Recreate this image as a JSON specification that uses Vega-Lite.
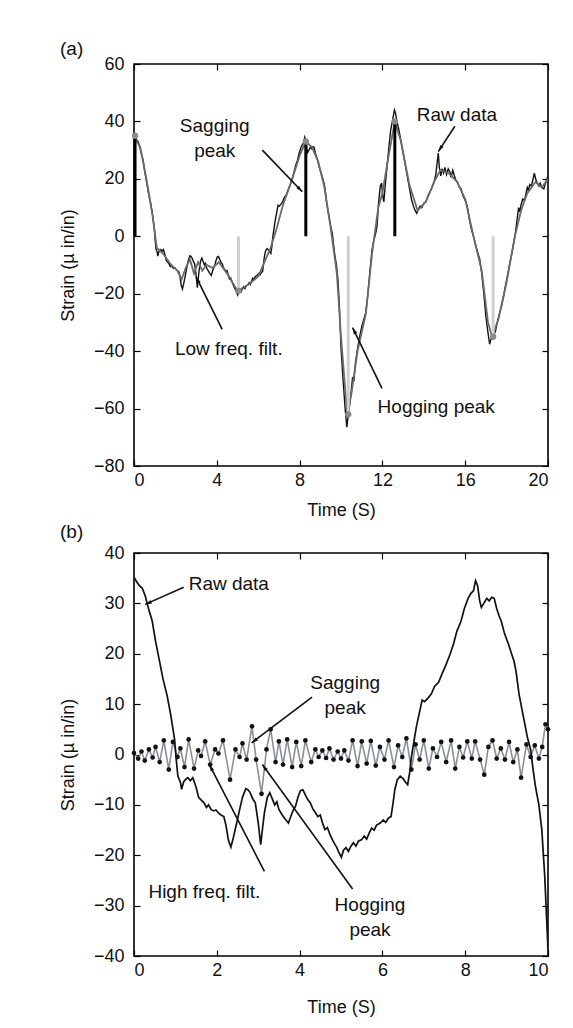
{
  "$schema": "https://vega.github.io/schema/vega-lite/v6.json",
  "background": "white",
  "padding": {"left": 58, "top": 39, "right": 5, "bottom": 5},
  "spacing": 2,
  "datasets": {
    "raw": [
      {"t":0.00,"v":35.2},{"t":0.05,"v":34.5},{"t":0.12,"v":33.6},{"t":0.20,"v":33.0},{"t":0.27,"v":31.5},{"t":0.35,"v":29.0},{"t":0.44,"v":26.5},{"t":0.52,"v":22.5},{"t":0.62,"v":18.4},{"t":0.70,"v":15.0},{"t":0.80,"v":11.7},{"t":0.89,"v":7.7},{"t":0.98,"v":3.0},{"t":1.02,"v":-1.0},{"t":1.06,"v":-4.3},{"t":1.12,"v":-5.5},{"t":1.15,"v":-6.9},{"t":1.20,"v":-5.4},{"t":1.24,"v":-5.0},{"t":1.30,"v":-4.6},{"t":1.36,"v":-5.2},{"t":1.42,"v":-4.6},{"t":1.50,"v":-6.5},{"t":1.56,"v":-8.5},{"t":1.62,"v":-9.0},{"t":1.69,"v":-9.6},{"t":1.75,"v":-10.5},{"t":1.80,"v":-10.0},{"t":1.86,"v":-10.9},{"t":1.92,"v":-11.2},{"t":1.98,"v":-11.0},{"t":2.04,"v":-11.6},{"t":2.10,"v":-12.0},{"t":2.17,"v":-12.3},{"t":2.22,"v":-14.0},{"t":2.28,"v":-17.0},{"t":2.34,"v":-18.4},{"t":2.40,"v":-16.5},{"t":2.48,"v":-13.6},{"t":2.55,"v":-11.0},{"t":2.62,"v":-8.5},{"t":2.70,"v":-6.8},{"t":2.75,"v":-7.0},{"t":2.80,"v":-7.5},{"t":2.88,"v":-9.0},{"t":2.93,"v":-9.6},{"t":3.00,"v":-13.5},{"t":3.06,"v":-17.9},{"t":3.10,"v":-15.0},{"t":3.15,"v":-11.6},{"t":3.22,"v":-8.5},{"t":3.28,"v":-7.6},{"t":3.34,"v":-8.8},{"t":3.40,"v":-10.0},{"t":3.45,"v":-9.4},{"t":3.50,"v":-10.9},{"t":3.58,"v":-12.0},{"t":3.65,"v":-12.8},{"t":3.73,"v":-13.6},{"t":3.80,"v":-12.0},{"t":3.85,"v":-11.0},{"t":3.90,"v":-10.3},{"t":3.96,"v":-8.5},{"t":4.02,"v":-7.2},{"t":4.08,"v":-7.0},{"t":4.15,"v":-8.2},{"t":4.20,"v":-9.0},{"t":4.26,"v":-9.6},{"t":4.32,"v":-10.8},{"t":4.38,"v":-11.5},{"t":4.44,"v":-12.3},{"t":4.50,"v":-12.0},{"t":4.55,"v":-13.5},{"t":4.61,"v":-14.9},{"t":4.67,"v":-14.5},{"t":4.73,"v":-15.8},{"t":4.79,"v":-16.9},{"t":4.85,"v":-17.8},{"t":4.90,"v":-18.5},{"t":4.95,"v":-19.5},{"t":5.01,"v":-20.4},{"t":5.06,"v":-19.0},{"t":5.12,"v":-18.5},{"t":5.18,"v":-19.2},{"t":5.24,"v":-18.2},{"t":5.30,"v":-17.5},{"t":5.36,"v":-18.2},{"t":5.42,"v":-17.2},{"t":5.50,"v":-16.9},{"t":5.56,"v":-16.2},{"t":5.62,"v":-16.8},{"t":5.68,"v":-15.6},{"t":5.74,"v":-14.6},{"t":5.80,"v":-15.0},{"t":5.86,"v":-14.0},{"t":5.95,"v":-13.6},{"t":6.02,"v":-13.0},{"t":6.08,"v":-13.5},{"t":6.15,"v":-12.6},{"t":6.21,"v":-12.3},{"t":6.26,"v":-9.5},{"t":6.30,"v":-7.0},{"t":6.36,"v":-5.0},{"t":6.43,"v":-4.3},{"t":6.50,"v":-4.8},{"t":6.56,"v":-5.5},{"t":6.61,"v":-6.0},{"t":6.66,"v":-3.5},{"t":6.70,"v":-0.5},{"t":6.76,"v":2.5},{"t":6.82,"v":5.5},{"t":6.90,"v":8.5},{"t":6.96,"v":10.8},{"t":7.02,"v":10.5},{"t":7.10,"v":11.2},{"t":7.18,"v":12.0},{"t":7.26,"v":13.5},{"t":7.36,"v":14.4},{"t":7.44,"v":16.0},{"t":7.52,"v":17.5},{"t":7.63,"v":19.8},{"t":7.72,"v":22.0},{"t":7.80,"v":24.5},{"t":7.90,"v":26.5},{"t":7.98,"v":29.0},{"t":8.07,"v":31.0},{"t":8.14,"v":32.0},{"t":8.20,"v":32.5},{"t":8.25,"v":34.5},{"t":8.30,"v":33.5},{"t":8.35,"v":30.5},{"t":8.39,"v":29.2},{"t":8.45,"v":30.0},{"t":8.52,"v":31.0},{"t":8.58,"v":30.5},{"t":8.64,"v":31.2},{"t":8.70,"v":31.0},{"t":8.76,"v":29.0},{"t":8.82,"v":27.5},{"t":8.87,"v":26.5},{"t":8.95,"v":24.0},{"t":9.05,"v":21.8},{"t":9.12,"v":20.0},{"t":9.18,"v":18.5},{"t":9.23,"v":16.4},{"t":9.30,"v":12.0},{"t":9.40,"v":7.7},{"t":9.50,"v":3.5},{"t":9.58,"v":1.0},{"t":9.64,"v":-3.0},{"t":9.70,"v":-6.5},{"t":9.78,"v":-10.0},{"t":9.85,"v":-14.9},{"t":9.92,"v":-24.0},{"t":10.00,"v":-38.7},
      {"t":10.10,"v":-50.0},{"t":10.20,"v":-60.0},{"t":10.28,"v":-66.5},{"t":10.34,"v":-63.0},{"t":10.40,"v":-60.0},{"t":10.48,"v":-55.0},{"t":10.56,"v":-49.0},{"t":10.62,"v":-50.5},{"t":10.70,"v":-44.0},{"t":10.80,"v":-39.0},{"t":10.90,"v":-35.0},{"t":11.00,"v":-31.5},{"t":11.10,"v":-29.0},{"t":11.20,"v":-26.5},{"t":11.30,"v":-20.0},{"t":11.40,"v":-12.0},{"t":11.50,"v":-4.7},{"t":11.58,"v":-1.5},{"t":11.66,"v":0.5},{"t":11.74,"v":3.5},{"t":11.82,"v":12.0},{"t":11.90,"v":17.5},{"t":11.96,"v":18.5},{"t":12.02,"v":14.0},{"t":12.07,"v":12.0},{"t":12.14,"v":18.0},{"t":12.22,"v":24.0},{"t":12.30,"v":30.0},{"t":12.40,"v":37.0},{"t":12.50,"v":40.7},{"t":12.58,"v":44.0},{"t":12.63,"v":43.0},{"t":12.70,"v":40.0},{"t":12.80,"v":37.0},{"t":12.90,"v":33.0},{"t":13.00,"v":29.0},{"t":13.10,"v":25.0},{"t":13.20,"v":21.0},{"t":13.30,"v":17.0},{"t":13.40,"v":13.0},{"t":13.50,"v":10.5},{"t":13.58,"v":9.0},{"t":13.66,"v":8.0},{"t":13.74,"v":9.5},{"t":13.82,"v":10.5},{"t":13.90,"v":10.0},{"t":14.00,"v":11.5},{"t":14.10,"v":12.0},{"t":14.20,"v":14.0},{"t":14.30,"v":15.5},{"t":14.40,"v":17.0},{"t":14.50,"v":19.0},{"t":14.58,"v":21.5},{"t":14.65,"v":26.0},{"t":14.70,"v":29.0},{"t":14.75,"v":24.0},{"t":14.82,"v":21.0},{"t":14.88,"v":23.5},{"t":14.95,"v":22.0},{"t":15.02,"v":24.0},{"t":15.10,"v":21.5},{"t":15.18,"v":23.5},{"t":15.26,"v":22.5},{"t":15.32,"v":20.5},{"t":15.40,"v":23.0},{"t":15.48,"v":21.0},{"t":15.55,"v":19.5},{"t":15.62,"v":19.0},{"t":15.70,"v":17.5},{"t":15.80,"v":16.5},{"t":15.90,"v":14.0},{"t":16.00,"v":12.5},{"t":16.10,"v":10.5},{"t":16.20,"v":6.0},{"t":16.30,"v":2.5},{"t":16.40,"v":0.0},{"t":16.50,"v":-3.0},{"t":16.60,"v":-5.5},{"t":16.70,"v":-8.0},{"t":16.80,"v":-13.0},{"t":16.90,"v":-20.0},{"t":17.00,"v":-28.0},{"t":17.10,"v":-33.5},{"t":17.18,"v":-37.6},{"t":17.24,"v":-36.0},{"t":17.30,"v":-35.0},{"t":17.38,"v":-34.5},{"t":17.46,"v":-33.0},{"t":17.55,"v":-30.0},{"t":17.65,"v":-27.0},{"t":17.75,"v":-24.5},{"t":17.85,"v":-21.0},{"t":17.95,"v":-17.0},{"t":18.05,"v":-13.5},{"t":18.15,"v":-9.5},{"t":18.25,"v":-6.0},{"t":18.35,"v":-2.0},{"t":18.42,"v":1.0},{"t":18.50,"v":5.5},{"t":18.58,"v":10.0},{"t":18.64,"v":8.5},{"t":18.70,"v":11.0},{"t":18.78,"v":13.0},{"t":18.86,"v":12.5},{"t":18.94,"v":15.0},{"t":19.00,"v":17.0},{"t":19.05,"v":16.0},{"t":19.12,"v":18.0},{"t":19.20,"v":17.5},{"t":19.28,"v":20.0},{"t":19.34,"v":22.0},{"t":19.40,"v":20.0},{"t":19.48,"v":18.5},{"t":19.56,"v":17.5},{"t":19.62,"v":18.5},{"t":19.70,"v":17.0},{"t":19.80,"v":16.5},{"t":19.88,"v":18.5},{"t":19.95,"v":20.0},{"t":20.00,"v":21.0}
    ],
    "lowf": [
      {"t":0,"v":35},{"t":0.3,"v":31},{"t":0.6,"v":20},{"t":0.9,"v":7},{"t":1.1,"v":-4},{"t":1.4,"v":-6},{"t":1.8,"v":-10},{"t":2.1,"v":-12},{"t":2.3,"v":-15},{"t":2.5,"v":-11},{"t":2.7,"v":-8},{"t":2.9,"v":-13},{"t":3.1,"v":-9},{"t":3.3,"v":-12},{"t":3.5,"v":-10},{"t":3.8,"v":-11},{"t":4.1,"v":-9},{"t":4.5,"v":-13},{"t":5.0,"v":-19},{"t":5.5,"v":-17},{"t":6.0,"v":-14},{"t":6.3,"v":-9},{"t":6.6,"v":-4},{"t":6.9,"v":3},{"t":7.2,"v":11},{"t":7.6,"v":19},{"t":8.0,"v":28},{"t":8.3,"v":33},{"t":8.6,"v":31},{"t":8.9,"v":26},{"t":9.2,"v":17},{"t":9.5,"v":3},{"t":9.8,"v":-13},{"t":10.0,"v":-35},{"t":10.3,"v":-62},{"t":10.5,"v":-55},{"t":10.8,"v":-40},{"t":11.2,"v":-27},{"t":11.5,"v":-6},{"t":11.8,"v":10},{"t":12.0,"v":15},{"t":12.3,"v":28},{"t":12.6,"v":40},{"t":12.9,"v":33},{"t":13.3,"v":18},{"t":13.7,"v":9},{"t":14.1,"v":12},{"t":14.5,"v":19},{"t":14.8,"v":23},{"t":15.2,"v":22},{"t":15.6,"v":19},{"t":16.0,"v":13},{"t":16.4,"v":0},{"t":16.8,"v":-12},{"t":17.1,"v":-30},{"t":17.3,"v":-35},{"t":17.6,"v":-29},{"t":18.0,"v":-16},{"t":18.4,"v":0},{"t":18.7,"v":9},{"t":19.0,"v":15},{"t":19.4,"v":19},{"t":19.7,"v":17},{"t":20,"v":20}
    ],
    "hf": [
      {"t":0.00,"v":0.3},{"t":0.10,"v":-0.8},{"t":0.18,"v":0.6},{"t":0.26,"v":-1.2},{"t":0.36,"v":1.0},{"t":0.45,"v":-0.6},{"t":0.52,"v":1.5},{"t":0.62,"v":-1.5},{"t":0.72,"v":2.8},{"t":0.84,"v":-3.0},{"t":0.94,"v":2.5},{"t":1.05,"v":-0.5},{"t":1.12,"v":1.2},{"t":1.22,"v":-2.5},{"t":1.32,"v":3.0},{"t":1.45,"v":-2.8},{"t":1.55,"v":0.8},{"t":1.62,"v":-0.3},{"t":1.72,"v":2.6},{"t":1.84,"v":-2.0},{"t":1.96,"v":1.0},{"t":2.04,"v":0.2},{"t":2.15,"v":2.8},{"t":2.32,"v":-5.0},{"t":2.45,"v":1.0},{"t":2.55,"v":-0.5},{"t":2.62,"v":2.2},{"t":2.72,"v":-1.0},{"t":2.85,"v":5.6},{"t":2.95,"v":-1.0},{"t":3.08,"v":-7.8},{"t":3.20,"v":1.0},{"t":3.30,"v":5.0},{"t":3.42,"v":-1.5},{"t":3.50,"v":2.6},{"t":3.60,"v":-2.0},{"t":3.70,"v":3.0},{"t":3.82,"v":-2.5},{"t":3.92,"v":2.5},{"t":4.04,"v":-2.3},{"t":4.14,"v":2.8},{"t":4.28,"v":-1.5},{"t":4.38,"v":1.0},{"t":4.46,"v":-0.5},{"t":4.55,"v":0.8},{"t":4.64,"v":-0.7},{"t":4.72,"v":1.2},{"t":4.82,"v":-1.0},{"t":4.92,"v":0.6},{"t":5.00,"v":-0.8},{"t":5.08,"v":0.8},{"t":5.18,"v":-1.2},{"t":5.28,"v":2.8},{"t":5.40,"v":-2.3},{"t":5.50,"v":2.6},{"t":5.62,"v":-1.8},{"t":5.72,"v":2.7},{"t":5.84,"v":-2.2},{"t":5.94,"v":1.5},{"t":6.05,"v":-1.0},{"t":6.15,"v":2.8},{"t":6.28,"v":-2.5},{"t":6.38,"v":1.8},{"t":6.48,"v":-0.5},{"t":6.58,"v":3.2},{"t":6.70,"v":-3.0},{"t":6.80,"v":2.0},{"t":6.90,"v":-1.0},{"t":7.00,"v":2.8},{"t":7.12,"v":-2.8},{"t":7.22,"v":1.2},{"t":7.32,"v":-0.5},{"t":7.42,"v":2.5},{"t":7.54,"v":-1.5},{"t":7.66,"v":2.8},{"t":7.76,"v":-2.8},{"t":7.86,"v":1.5},{"t":7.95,"v":-0.6},{"t":8.05,"v":2.6},{"t":8.16,"v":-0.8},{"t":8.24,"v":2.6},{"t":8.36,"v":-1.0},{"t":8.46,"v":-4.0},{"t":8.56,"v":1.5},{"t":8.66,"v":2.8},{"t":8.76,"v":-0.8},{"t":8.86,"v":1.2},{"t":8.96,"v":-1.0},{"t":9.06,"v":2.5},{"t":9.16,"v":-1.5},{"t":9.26,"v":1.0},{"t":9.35,"v":-4.6},{"t":9.48,"v":2.0},{"t":9.58,"v":-0.5},{"t":9.68,"v":1.8},{"t":9.78,"v":-0.8},{"t":9.86,"v":1.5},{"t":9.94,"v":6.0},{"t":10.0,"v":5.0}
    ],
    "stems": [
      {"t":0.05,"v":35,"kind":"sag"},{"t":8.3,"v":33,"kind":"sag"},{"t":12.6,"v":40,"kind":"sag"},
      {"t":5.05,"v":-19,"kind":"hog"},{"t":10.35,"v":-62,"kind":"hog"},{"t":17.35,"v":-35,"kind":"hog"}
    ],
    "notes_a": [
      {"t":3.9,"v":38.3,"text":"Sagging\npeak"},
      {"t":15.6,"v":42.4,"text":"Raw data"},
      {"t":4.58,"v":-39.4,"text":"Low freq. filt."},
      {"t":14.6,"v":-59.4,"text":"Hogging peak"}
    ],
    "arrows_a": [
      {"id":"sag","t":6.2,"v":30,"t2":8.13,"v2":15.5},
      {"id":"raw","t":15.5,"v":38.3,"t2":14.7,"v2":29.5},
      {"id":"low","t":4.26,"v":-32.4,"t2":3.0,"v2":-14.1},
      {"id":"hog","t":11.98,"v":-53,"t2":10.56,"v2":-31.8}
    ],
    "notes_b": [
      {"t":2.29,"v":33.8,"text":"Raw data"},
      {"t":5.1,"v":14.1,"text":"Sagging\npeak"},
      {"t":1.7,"v":-27.2,"text":"High freq. filt."},
      {"t":5.7,"v":-29.8,"text":"Hogging\npeak"}
    ],
    "arrows_b": [
      {"id":"raw","t":1.2,"v":33.2,"t2":0.27,"v2":29.8},
      {"id":"sag","t":4.3,"v":11.4,"t2":2.84,"v2":2.3},
      {"id":"high","t":3.15,"v":-23.2,"t2":1.82,"v2":-2.0},
      {"id":"hog","t":5.28,"v":-26.7,"t2":3.1,"v2":-2.0}
    ]
  },
  "vconcat": [
    {
      "width": 414,
      "height": 402,
      "title": {"text": "(a)", "anchor": "start", "frame": "group", "dx": -74, "offset": -4, "fontSize": 19, "fontWeight": "normal", "font": "Liberation Sans", "color": "#111"},
      "resolve": {"axis": {"x": "independent", "y": "independent"}},
      "layer": [
        {
          "data": {"name": "raw"},
          "mark": {"type": "line", "color": "#111", "strokeWidth": 1.4, "clip": true},
          "encoding": {
            "x": {"field": "t", "type": "quantitative", "scale": {"domain": [0, 20], "nice": false}, "axis": {"orient": "bottom", "values": [0, 4, 8, 12, 16, 20], "title": "Time (S)", "ticks": false, "titlePadding": 12}},
            "y": {"field": "v", "type": "quantitative", "scale": {"domain": [-80, 60], "nice": false}, "axis": {"orient": "left", "values": [-80, -60, -40, -20, 0, 20, 40, 60], "title": "Strain (µ in/in)", "ticks": false}}
          }
        },
        {
          "data": {"name": "lowf"},
          "mark": {"type": "line", "color": "#6a6a6a", "strokeWidth": 1.8, "clip": true},
          "encoding": {
            "x": {"field": "t", "type": "quantitative", "axis": {"orient": "top", "values": [0, 4, 8, 12, 16, 20], "labels": false, "title": null, "offset": -6}},
            "y": {"field": "v", "type": "quantitative", "axis": {"orient": "right", "values": [-80, -60, -40, -20, 0, 20, 40, 60], "labels": false, "title": null, "offset": -6}}
          }
        },
        {
          "mark": {"type": "rule", "color": "#000", "strokeWidth": 1.6},
          "encoding": {"y": {"datum": 0, "type": "quantitative", "axis": null}}
        },
        {
          "data": {"name": "stems"},
          "mark": {"type": "rule", "strokeWidth": 3},
          "encoding": {
            "x": {"field": "t", "type": "quantitative", "axis": {"orient": "bottom", "values": [0, 4, 8, 12, 16, 20], "labels": false, "title": null, "offset": -6}},
            "y": {"field": "v", "type": "quantitative", "axis": {"orient": "left", "values": [-80, -60, -40, -20, 0, 20, 40, 60], "labels": false, "title": null, "offset": -6}},
            "y2": {"datum": 0},
            "color": {"field": "kind", "type": "nominal", "scale": {"domain": ["sag", "hog"], "range": ["#000000", "#cfcfcf"]}, "legend": null}
          }
        },
        {
          "data": {"name": "stems"},
          "mark": {"type": "point", "filled": true, "color": "#8a8a8a", "size": 40, "opacity": 1},
          "encoding": {
            "x": {"field": "t", "type": "quantitative", "axis": null},
            "y": {"field": "v", "type": "quantitative", "axis": null}
          }
        },
        {
          "data": {"name": "notes_a"},
          "mark": {"type": "text", "align": "center", "baseline": "middle", "lineBreak": "\n", "lineHeight": 25, "fontSize": 19, "font": "Liberation Sans", "color": "#111"},
          "encoding": {
            "x": {"field": "t", "type": "quantitative", "axis": null},
            "y": {"field": "v", "type": "quantitative", "axis": null},
            "text": {"field": "text"}
          }
        },
        {
          "data": {"name": "arrows_a"},
          "mark": {"type": "rule", "color": "#111", "strokeWidth": 1.6},
          "encoding": {
            "x": {"field": "t", "type": "quantitative", "axis": null},
            "y": {"field": "v", "type": "quantitative", "axis": null},
            "x2": {"field": "t2"},
            "y2": {"field": "v2"}
          }
        },
        {
          "data": {"name": "arrows_a"},
          "transform": [{"filter": "datum.id == 'sag'"}],
          "mark": {"type": "point", "shape": "M0,0L-0.45,1.6L0.45,1.6Z", "filled": true, "color": "#111", "size": 70, "opacity": 1, "angle": 136},
          "encoding": {"x": {"field": "t2", "type": "quantitative", "axis": null}, "y": {"field": "v2", "type": "quantitative", "axis": null}}
        },
        {
          "data": {"name": "arrows_a"},
          "transform": [{"filter": "datum.id == 'raw'"}],
          "mark": {"type": "point", "shape": "M0,0L-0.45,1.6L0.45,1.6Z", "filled": true, "color": "#111", "size": 70, "opacity": 1, "angle": 213},
          "encoding": {"x": {"field": "t2", "type": "quantitative", "axis": null}, "y": {"field": "v2", "type": "quantitative", "axis": null}}
        },
        {
          "data": {"name": "arrows_a"},
          "transform": [{"filter": "datum.id == 'low'"}],
          "mark": {"type": "point", "shape": "M0,0L-0.45,1.6L0.45,1.6Z", "filled": true, "color": "#111", "size": 70, "opacity": 1, "angle": 334},
          "encoding": {"x": {"field": "t2", "type": "quantitative", "axis": null}, "y": {"field": "v2", "type": "quantitative", "axis": null}}
        },
        {
          "data": {"name": "arrows_a"},
          "transform": [{"filter": "datum.id == 'hog'"}],
          "mark": {"type": "point", "shape": "M0,0L-0.45,1.6L0.45,1.6Z", "filled": true, "color": "#111", "size": 70, "opacity": 1, "angle": 334},
          "encoding": {"x": {"field": "t2", "type": "quantitative", "axis": null}, "y": {"field": "v2", "type": "quantitative", "axis": null}}
        }
      ]
    },
    {
      "width": 414,
      "height": 403,
      "title": {"text": "(b)", "anchor": "start", "frame": "group", "dx": -74, "offset": 2, "fontSize": 19, "fontWeight": "normal", "font": "Liberation Sans", "color": "#111"},
      "resolve": {"axis": {"x": "independent", "y": "independent"}},
      "layer": [
        {
          "mark": {"type": "rule", "color": "#000", "strokeWidth": 1.2},
          "encoding": {"y": {"datum": 0, "type": "quantitative", "scale": {"domain": [-40, 40], "nice": false}, "axis": null}}
        },
        {
          "data": {"name": "hf"},
          "mark": {"type": "line", "color": "#8c8f98", "strokeWidth": 1.6, "clip": true},
          "encoding": {
            "x": {"field": "t", "type": "quantitative", "scale": {"domain": [0, 10], "nice": false}, "axis": {"orient": "top", "values": [0, 2, 4, 6, 8, 10], "labels": false, "title": null, "offset": -6}},
            "y": {"field": "v", "type": "quantitative", "axis": {"orient": "right", "values": [-40, -30, -20, -10, 0, 10, 20, 30, 40], "labels": false, "title": null, "offset": -6}}
          }
        },
        {
          "data": {"name": "hf"},
          "mark": {"type": "point", "filled": true, "color": "#111", "size": 22, "opacity": 1},
          "encoding": {
            "x": {"field": "t", "type": "quantitative", "axis": {"orient": "bottom", "values": [0, 2, 4, 6, 8, 10], "labels": false, "title": null, "offset": -6}},
            "y": {"field": "v", "type": "quantitative", "axis": {"orient": "left", "values": [-40, -30, -20, -10, 0, 10, 20, 30, 40], "labels": false, "title": null, "offset": -6}}
          }
        },
        {
          "data": {"name": "raw"},
          "transform": [{"filter": "datum.t <= 10"}],
          "mark": {"type": "line", "color": "#111", "strokeWidth": 1.7, "clip": true},
          "encoding": {
            "x": {"field": "t", "type": "quantitative", "axis": {"orient": "bottom", "values": [0, 2, 4, 6, 8, 10], "title": "Time (S)", "ticks": false, "titlePadding": 19}},
            "y": {"field": "v", "type": "quantitative", "axis": {"orient": "left", "values": [-40, -30, -20, -10, 0, 10, 20, 30, 40], "title": "Strain (µ in/in)", "ticks": false}}
          }
        },
        {
          "data": {"name": "notes_b"},
          "mark": {"type": "text", "align": "center", "baseline": "middle", "lineBreak": "\n", "lineHeight": 25, "fontSize": 19, "font": "Liberation Sans", "color": "#111"},
          "encoding": {
            "x": {"field": "t", "type": "quantitative", "axis": null},
            "y": {"field": "v", "type": "quantitative", "axis": null},
            "text": {"field": "text"}
          }
        },
        {
          "data": {"name": "arrows_b"},
          "mark": {"type": "rule", "color": "#111", "strokeWidth": 1.6},
          "encoding": {
            "x": {"field": "t", "type": "quantitative", "axis": null},
            "y": {"field": "v", "type": "quantitative", "axis": null},
            "x2": {"field": "t2"},
            "y2": {"field": "v2"}
          }
        },
        {
          "data": {"name": "arrows_b"},
          "transform": [{"filter": "datum.id == 'raw'"}],
          "mark": {"type": "point", "shape": "M0,0L-0.45,1.6L0.45,1.6Z", "filled": true, "color": "#111", "size": 70, "opacity": 1, "angle": 246},
          "encoding": {"x": {"field": "t2", "type": "quantitative", "axis": null}, "y": {"field": "v2", "type": "quantitative", "axis": null}}
        },
        {
          "data": {"name": "arrows_b"},
          "transform": [{"filter": "datum.id == 'sag'"}],
          "mark": {"type": "point", "shape": "M0,0L-0.45,1.6L0.45,1.6Z", "filled": true, "color": "#111", "size": 70, "opacity": 1, "angle": 233},
          "encoding": {"x": {"field": "t2", "type": "quantitative", "axis": null}, "y": {"field": "v2", "type": "quantitative", "axis": null}}
        },
        {
          "data": {"name": "arrows_b"},
          "transform": [{"filter": "datum.id == 'high'"}],
          "mark": {"type": "point", "shape": "M0,0L-0.45,1.6L0.45,1.6Z", "filled": true, "color": "#111", "size": 70, "opacity": 1, "angle": 333},
          "encoding": {"x": {"field": "t2", "type": "quantitative", "axis": null}, "y": {"field": "v2", "type": "quantitative", "axis": null}}
        },
        {
          "data": {"name": "arrows_b"},
          "transform": [{"filter": "datum.id == 'hog'"}],
          "mark": {"type": "point", "shape": "M0,0L-0.45,1.6L0.45,1.6Z", "filled": true, "color": "#111", "size": 70, "opacity": 1, "angle": 324},
          "encoding": {"x": {"field": "t2", "type": "quantitative", "axis": null}, "y": {"field": "v2", "type": "quantitative", "axis": null}}
        }
      ]
    }
  ],
  "config": {
    "view": {"stroke": "#000", "strokeWidth": 1.6},
    "font": "Liberation Sans",
    "axis": {
      "grid": false,
      "domain": false,
      "tickSize": 6,
      "tickColor": "#000",
      "tickWidth": 1.2,
      "labelFont": "Liberation Sans",
      "labelFontSize": 18,
      "labelColor": "#111",
      "titleFont": "Liberation Sans",
      "titleFontSize": 18,
      "titleFontWeight": "normal",
      "titleColor": "#111"
    },
    "axisX": {"labelPadding": 5},
    "axisY": {"labelPadding": 10, "titlePadding": 16}
  }
}
